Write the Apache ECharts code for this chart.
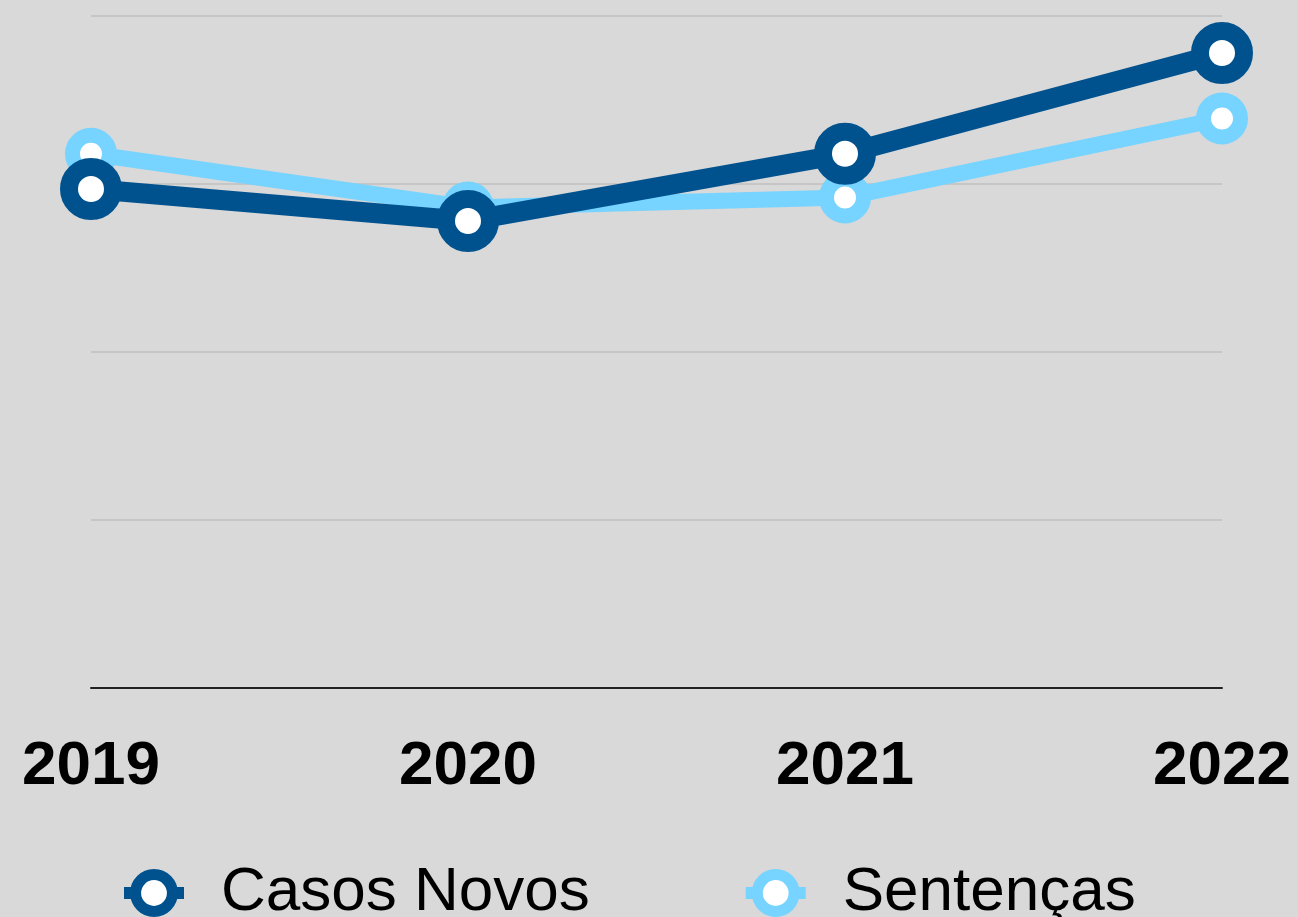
<!DOCTYPE html>
<html lang="pt">

<head>
    <meta charset="UTF-8">
    <title>Casos Novos x Sentenças</title>
    <script src="https://cdnjs.cloudflare.com/ajax/libs/echarts/6.0.0/echarts.min.js"></script>
    <style>
        html, body { margin: 0; padding: 0; background: #d9d9d9; }
    </style>
</head>

<body>
    <div id="main" style="width: 1298px;height:917px;"></div>

    <script>
        // dados (escala sem rótulos, 0 a 4)
        var anos = ['2019', '2020', '2021', '2022'];
        var casosNovos = [2.97, 2.78, 3.18, 3.78];
        var sentencas = [3.18, 2.86, 2.92, 3.39];

        var chart1 = echarts.init(document.getElementById('main'));

        var option = {
            backgroundColor: '#d9d9d9',
            animation: false,
            grid: { left: 91, right: 76, top: 16, bottom: 229 },
            legend: {
                data: ['Casos Novos', 'Sentenças'],
                top: 857,
                left: 113,
                itemWidth: 60,
                itemHeight: 46,
                itemGap: 150,
                lineStyle: { width: 12 },
                itemStyle: { borderWidth: 11 },
                textStyle: {
                    fontFamily: 'Liberation Sans',
                    fontSize: 62,
                    color: '#000',
                    padding: [0, 0, 0, 32]
                }
            },
            xAxis: {
                type: 'category',
                data: anos,
                boundaryGap: false,
                axisTick: { show: false },
                axisLine: { lineStyle: { color: '#222', width: 2 } },
                axisLabel: {
                    margin: 48,
                    fontFamily: 'Liberation Sans',
                    fontWeight: 'bold',
                    fontSize: 62,
                    color: '#000'
                }
            },
            yAxis: {
                type: 'value',
                min: 0,
                max: 4,
                interval: 1,
                axisLabel: { show: false },
                axisLine: { show: false },
                axisTick: { show: false },
                splitLine: { lineStyle: { color: '#c6c6c6', width: 2 } }
            },
            series: [
                {
                    name: 'Sentenças',
                    type: 'line',
                    data: sentencas,
                    symbol: 'circle',
                    symbolSize: 37,
                    lineStyle: { color: '#77d3ff', width: 16 },
                    itemStyle: { color: '#ffffff', borderColor: '#77d3ff', borderWidth: 15 }
                },
                {
                    name: 'Casos Novos',
                    type: 'line',
                    data: casosNovos,
                    symbol: 'circle',
                    symbolSize: 44,
                    lineStyle: { color: '#00528f', width: 20 },
                    itemStyle: { color: '#ffffff', borderColor: '#00528f', borderWidth: 18 }
                }
            ]
        };

        chart1.setOption(option);
    </script>
</body>

</html>
